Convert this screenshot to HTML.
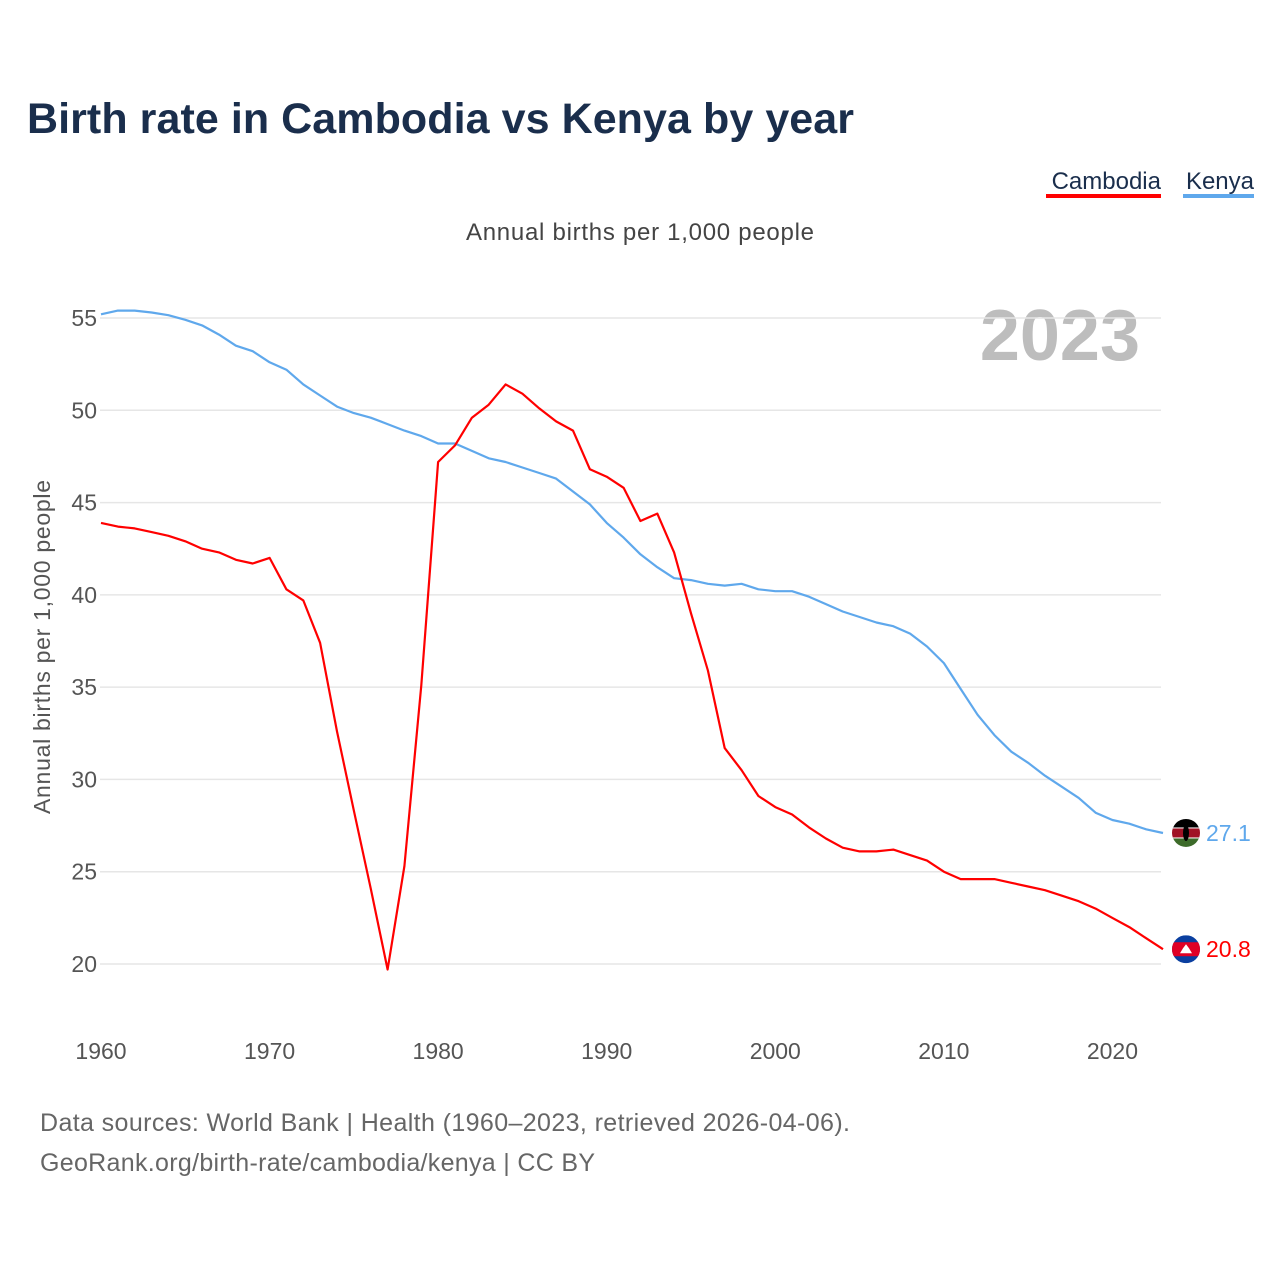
<!DOCTYPE html>
<html><head><meta charset="utf-8">
<style>
body{margin:0;background:#fff;font-family:"Liberation Sans",sans-serif;}
#wrap{position:relative;width:1280px;height:1280px;overflow:hidden;}
</style></head>
<body>
<div id="wrap">
<svg id="chart" width="1280" height="1280" xmlns="http://www.w3.org/2000/svg">
  <text x="27" y="133" font-size="43" font-weight="bold" fill="#1a2e4c" textLength="827">Birth rate in Cambodia vs Kenya by year</text>
  <g>
    <text x="1161" y="189" font-size="24" fill="#1a2e4c" text-anchor="end">Cambodia</text>
    <rect x="1046" y="194" width="115" height="4" fill="#ff0000"/>
    <text x="1254" y="189" font-size="24" fill="#1a2e4c" text-anchor="end">Kenya</text>
    <rect x="1183" y="194" width="71" height="4" fill="#5fa8ec"/>
  </g>
  <text x="640" y="240" font-size="24" fill="#444" text-anchor="middle" textLength="348">Annual births per 1,000 people</text>
  <text x="1140" y="360" font-size="72" font-weight="bold" fill="#bdbdbd" text-anchor="end">2023</text>
  <text transform="translate(50,647) rotate(-90)" font-size="23" fill="#555" text-anchor="middle" textLength="334">Annual births per 1,000 people</text>
  <g id="grid"></g><g id="yticks"></g><g id="xticks"></g><g id="series"></g><g id="ends"></g>
  <text x="40" y="1131" font-size="25" fill="#666" textLength="810">Data sources: World Bank | Health (1960–2023, retrieved 2026-04-06).</text>
  <text x="40" y="1171" font-size="25" fill="#666" textLength="555">GeoRank.org/birth-rate/cambodia/kenya | CC BY</text>
</svg>
</div>
<script>
const years = [];
for (let y = 1960; y <= 2023; y++) years.push(y);
const cambodia = [43.9,43.7,43.6,43.4,43.2,42.9,42.5,42.3,41.9,41.7,42.0,40.3,39.7,37.4,32.6,28.3,24.1,19.7,25.3,35.1,47.2,48.1,49.6,50.3,51.4,50.9,50.1,49.4,48.9,46.8,46.4,45.8,44.0,44.4,42.3,39.0,35.9,31.7,30.5,29.1,28.5,28.1,27.4,26.8,26.3,26.1,26.1,26.2,25.9,25.6,25.0,24.6,24.6,24.6,24.4,24.2,24.0,23.7,23.4,23.0,22.5,22.0,21.4,20.8];
const kenya = [55.2,55.4,55.4,55.3,55.15,54.9,54.6,54.1,53.5,53.2,52.6,52.2,51.4,50.8,50.2,49.85,49.6,49.25,48.9,48.6,48.2,48.2,47.8,47.4,47.2,46.9,46.6,46.3,45.6,44.9,43.9,43.1,42.2,41.5,40.9,40.8,40.6,40.5,40.6,40.3,40.2,40.2,39.9,39.5,39.1,38.8,38.5,38.3,37.9,37.2,36.3,34.9,33.5,32.4,31.5,30.9,30.2,29.6,29.0,28.2,27.8,27.6,27.3,27.1];
const yTicks = [20,25,30,35,40,45,50,55];
const xTicks = [1960,1970,1980,1990,2000,2010,2020];

const NS = "http://www.w3.org/2000/svg";
const X = yr => 101 + (yr - 1960) * (1163 - 101) / 63;
const Y = v => 964 - (v - 20) * (964 - 318) / 35;
function mk(tag, attrs, parent, txt) {
  const e = document.createElementNS(NS, tag);
  for (const k in attrs) e.setAttribute(k, attrs[k]);
  if (txt !== undefined) e.textContent = txt;
  document.getElementById(parent).appendChild(e);
  return e;
}
yTicks.forEach(t => {
  const l = mk('line', {x1: 100, x2: 1161, y1: Y(t), y2: Y(t), stroke: '#e6e6e6', 'stroke-width': 1.5}, 'grid');
  
  
  const tx = mk('text', {x: 97, y: Y(t) + 8, 'font-size': 23, fill: '#555', 'text-anchor': 'end'}, 'yticks', String(t));
  
  
});
xTicks.forEach(t => {
  const tx = mk('text', {x: X(t), y: 1059, 'font-size': 23, fill: '#555', 'text-anchor': 'middle'}, 'xticks', String(t));
  
  
});
function line(vals, color, name) {
  const d = vals.map((v, i) => (i ? 'L' : 'M') + X(years[i]).toFixed(1) + ',' + Y(v).toFixed(1)).join('');
  const p = mk('path', {d: d, fill: 'none', stroke: color, 'stroke-width': 2.2, 'stroke-linejoin': 'round'}, 'series');
  
  
}
line(kenya, '#5fa8ec', 'line-kenya');
line(cambodia, '#ff0000', 'line-cambodia');

const ends = document.getElementById('ends');
const ky = Y(kenya[kenya.length - 1]);
ends.insertAdjacentHTML('beforeend',
  `<g><clipPath id="ck"><circle cx="1186" cy="${ky}" r="14"/></clipPath>
   <g clip-path="url(#ck)"><rect x="1172" y="${ky-14}" width="28" height="9" fill="#000"/><rect x="1172" y="${ky-5}" width="28" height="10" fill="#a01224"/><rect x="1172" y="${ky+5}" width="28" height="9" fill="#3d6b2a"/>
   <rect x="1172" y="${ky-5.5}" width="28" height="1" fill="#fff"/><rect x="1172" y="${ky+4.5}" width="28" height="1" fill="#fff"/>
   <ellipse cx="1186" cy="${ky}" rx="3" ry="8" fill="#000"/></g></g>`);
const cy = Y(cambodia[cambodia.length - 1]);
ends.insertAdjacentHTML('beforeend',
  `<g><clipPath id="cc"><circle cx="1186" cy="${cy}" r="14"/></clipPath>
   <g clip-path="url(#cc)"><rect x="1172" y="${cy-14}" width="28" height="28" fill="#0a3fa0"/><rect x="1172" y="${cy-7}" width="28" height="14" fill="#e00025"/>
   <polygon points="1180,${cy+4} 1192,${cy+4} 1189,${cy-1} 1186,${cy-5} 1183,${cy-1}" fill="#fff"/></g></g>`);
const kl = mk('text', {x: 1206, y: ky + 8, 'font-size': 23, fill: '#5fa8ec'}, 'ends', kenya[kenya.length - 1].toFixed(1));


const cl = mk('text', {x: 1206, y: cy + 8, 'font-size': 23, fill: '#ff0000'}, 'ends', cambodia[cambodia.length - 1].toFixed(1));


</script>
</body></html>
